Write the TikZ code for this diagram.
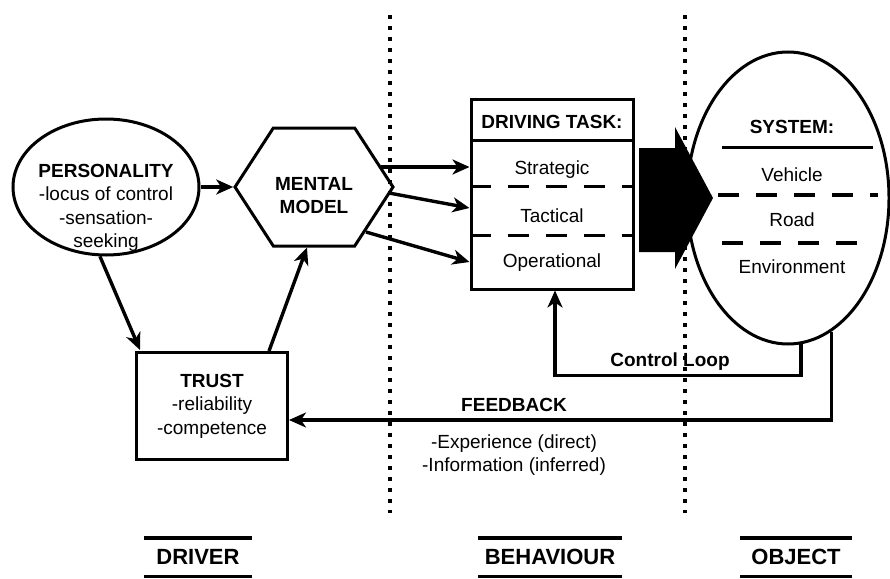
\documentclass[tikz,border=0pt]{standalone}
\usepackage{fontspec}
\setmainfont{Liberation Sans}
\usetikzlibrary{arrows.meta,
                calc,
                positioning,
                shapes.geometric,
                shapes.symbols}

\newcommand\headtxt{\fontsize{19}{23}\selectfont\bfseries}
\newcommand\bodytxt{\fontsize{19}{23.5}\selectfont}
\newcommand\lanetxt{\fontsize{22}{26}\selectfont\bfseries}

\tikzset{
  box/.style={draw, line width=3pt, inner sep=0pt},
  arr/.style={line width=3.4pt, -{Stealth[length=17pt,width=15pt,inset=5pt]}},
  sep/.style={line width=3.4pt, dash pattern=on 21pt off 17pt},
  dots/.style={line width=3.6pt, dash pattern=on 3.6pt off 7.4pt},
  lane/.style={font=\lanetxt, minimum height=38pt, inner sep=0pt},
}

\begin{document}
\begin{tikzpicture}[x=1pt, y=-1pt]
\useasboundingbox (0,0) rectangle (890,578);

% dotted borders between the three parts
\foreach \x in {390,685}
  \draw[dots] (\x,15) -- (\x,513);

% driver
\node[box, ellipse, minimum width=186pt, minimum height=136pt] (pers) at (106,187) {};
\node[font=\bodytxt, align=center] (perstext) at (106,208)
  {{\headtxt PERSONALITY}\\-locus of control\\-sensation-\\seeking};

\node[box, signal, signal to=east and west, signal pointer angle=114,
      minimum width=158pt, minimum height=118pt] (mental) at (314,187) {};
\node[font=\headtxt, align=center] (mentaltext) at (314,196) {MENTAL\\MODEL};

\node[box, minimum width=151pt, minimum height=107pt, font=\bodytxt, align=center]
  (trust) at (212,406) {{\headtxt TRUST}\\-reliability\\-competence};

% behaviour
\node[box, minimum width=162pt, minimum height=190pt] (task) at (552,194) {};
\draw[line width=3pt] ($(task.north west)+(0,43)$) -- ($(task.north east)+(0,43)$);
\node[font=\headtxt] (tasktitle) at (552,122) {DRIVING TASK:};
\foreach \t/\y/\n in {Strategic/170/strat, Tactical/216/tact, Operational/263/oper}
  \node[font=\bodytxt] (\n) at (552,\y) {\t};
\foreach \d in {89,138}
  \draw[sep] ($(task.north west)+(0,\d)$) -- ($(task.north east)+(0,\d)$);

% object
\node[box, ellipse, minimum width=202pt, minimum height=292pt] (sys) at (788,198) {};
\node[font=\headtxt] (systitle) at (792,127) {SYSTEM:};
\draw[line width=3pt] (722,147) -- (873,147);
\foreach \t/\y/\n in {Vehicle/175/veh, Road/220/road, Environment/267/env}
  \node[font=\bodytxt] (\n) at (792,\y) {\t};
\draw[sep] (718,195) -- (878,195);
\draw[sep] (722,243) -- (862,243);

% big arrow task -> system
\fill (639,148) -- (675,148) -- (675,127) -- (713,198) -- (675,269)
  -- (675,252) -- (639,252) -- cycle;

% connectors
\draw[arr] (pers.east) -- (mental.west);
\draw[arr] (pers.265) -- ([shift={(5,-1)}]trust.north west);
\draw[arr] ([shift={(-20,0)}]trust.north east) -- ([shift={(-7,0)}]mental.south);
\draw[arr] ([shift={(67,-20)}]mental.center) -- ([shift={(0,-27)}]task.west);
\draw[arr] ([shift={(75,6)}]mental.center) -- ([shift={(0,14)}]task.west);
\draw[arr] ([shift={(52,45)}]mental.center) -- ([shift={(0,68)}]task.west);

\draw[arr] (sys.-85) -- ++(0,31) -| ([shift={(3,0)}]task.south);
\node[font=\headtxt] (loop) at (670,362) {Control Loop};

\draw[arr] (sys.-72) |- ([shift={(0,14)}]trust.east);
\node[font=\headtxt] (fb) at (514,405) {FEEDBACK};
\node[font=\bodytxt, align=center] (fbsrc) at (514,455)
  {-Experience (direct)\\-Information (inferred)};

% lane titles
\foreach \n/\x/\w/\t in {driver/198/107/DRIVER, behav/550/143/BEHAVIOUR, object/796/111/OBJECT} {
  \node[lane, minimum width=\w pt] (\n) at (\x,557) {\t};
  \draw[line width=3.4pt] (\n.north west) -- (\n.north east) (\n.south west) -- (\n.south east);
}
\end{tikzpicture}
\end{document}
